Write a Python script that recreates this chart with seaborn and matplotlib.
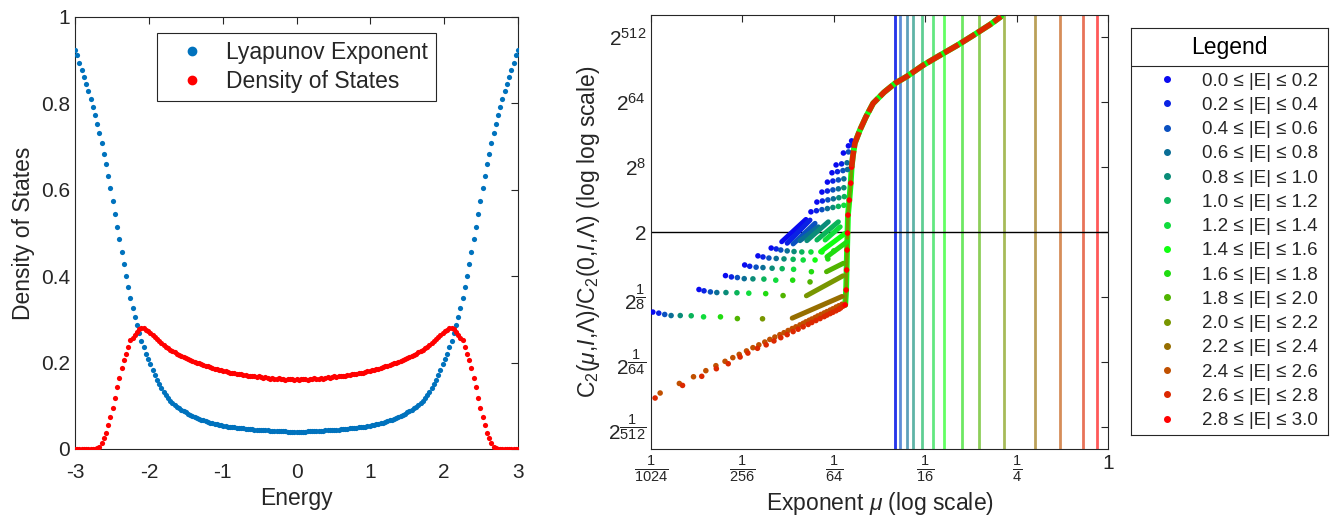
import numpy as np
import pandas as pd
import seaborn as sns
import matplotlib.pyplot as plt
from matplotlib.lines import Line2D
from matplotlib.ticker import NullLocator

sns.set_style('white')
plt.rcParams['font.family'] = ['Liberation Sans', 'DejaVu Sans']
plt.rcParams['mathtext.fontset'] = 'custom'
plt.rcParams['mathtext.rm'] = 'Liberation Sans'
plt.rcParams['mathtext.it'] = 'Liberation Sans:italic'
plt.rcParams['mathtext.bf'] = 'Liberation Sans:bold'
plt.rcParams['axes.unicode_minus'] = False

# ---------------- left panel: values for E >= 0 (curves are symmetric) ----------------
energy_step = 0.03
lyap_half = [0.040, 0.040, 0.040, 0.040, 0.040, 0.041, 0.041, 0.041, 0.041, 0.042,
             0.042, 0.042, 0.042, 0.043, 0.043, 0.043, 0.044, 0.044, 0.045, 0.045,
             0.046, 0.046, 0.047, 0.047, 0.048, 0.048, 0.049, 0.049, 0.050, 0.051,
             0.051, 0.052, 0.053, 0.054, 0.055, 0.056, 0.057, 0.058, 0.060, 0.061,
             0.063, 0.064, 0.066, 0.068, 0.070, 0.072, 0.074, 0.076, 0.079, 0.082,
             0.085, 0.088, 0.091, 0.094, 0.098, 0.102, 0.107, 0.112, 0.118, 0.125,
             0.133, 0.141, 0.150, 0.160, 0.171, 0.183, 0.196, 0.208, 0.221, 0.235,
             0.251, 0.268, 0.286, 0.306, 0.327, 0.350, 0.375, 0.401, 0.428, 0.456,
             0.485, 0.515, 0.545, 0.575, 0.604, 0.632, 0.659, 0.684, 0.708, 0.731,
             0.752, 0.772, 0.791, 0.810, 0.828, 0.845, 0.861, 0.878, 0.894, 0.911, 0.924]
dos_half = [0.162, 0.160, 0.163, 0.161, 0.162, 0.160, 0.163, 0.162, 0.164, 0.162,
            0.163, 0.165, 0.163, 0.164, 0.166, 0.165, 0.166, 0.168, 0.166, 0.169,
            0.168, 0.170, 0.169, 0.172, 0.171, 0.173, 0.174, 0.173, 0.176, 0.177,
            0.176, 0.179, 0.180, 0.181, 0.182, 0.184, 0.185, 0.186, 0.188, 0.190,
            0.191, 0.193, 0.195, 0.196, 0.198, 0.200, 0.202, 0.204, 0.206, 0.208,
            0.211, 0.213, 0.216, 0.218, 0.221, 0.224, 0.227, 0.230, 0.234, 0.237,
            0.241, 0.245, 0.249, 0.254, 0.259, 0.264, 0.268, 0.272, 0.276, 0.280,
            0.281, 0.277, 0.271, 0.265, 0.258, 0.252, 0.237, 0.221, 0.206, 0.187,
            0.165, 0.144, 0.119, 0.095, 0.075, 0.056, 0.038, 0.025, 0.013, 0.005,
            0.002, 0.001, 0.0, 0.0, 0.0, 0.0, 0.0, 0.0, 0.0, 0.0, 0.0]

# ---------------- right panel: x = log2(mu), t = log2(log2(C ratio)) ----------------
group_edges = [0.0, 0.2, 0.4, 0.6, 0.8, 1.0, 1.2, 1.4, 1.6, 1.8, 2.0, 2.2, 2.4, 2.6, 2.8, 3.0]
group_colors = ['#0a0af0', '#0a22e4', '#0a50c0', '#0a6e96', '#0a8c78', '#0ab45a', '#10dc3c',
                '#10ff10', '#20dc10', '#50b400', '#789600', '#966e00', '#c05000', '#dc2800', '#ff0000']
vline_lg = [-4.67, -4.65, -4.55, -4.40, -4.27, -4.08, -3.83, -3.58, -3.20, -2.82,
            -2.28, -1.60, -1.04, -0.54, -0.25]

fan_lg = [[-9.96, -9.83, -9.70, -9.56, -9.36, -9.12, -8.85, -8.48, -8.11, -7.56],
          [-8.95, -8.84, -8.70, -8.56, -8.36, -8.12, -7.86, -7.49, -7.11],
          [-8.37, -8.24, -8.11, -7.96, -7.77, -7.53, -7.27, -6.90, -6.52],
          [-7.95, -7.84, -7.70, -7.55, -7.35, -7.13, -6.88, -6.49],
          [-7.66, -7.55, -7.42, -7.26, -7.09, -6.89, -6.67, -6.41, -6.13],
          [-7.37, -7.26, -7.16, -7.02, -6.87, -6.70, -6.50, -6.26, -6.00],
          [-6.50, -6.38, -6.26, -6.14, -6.02, -5.90, -5.78],
          [-6.37, -6.25, -6.13, -6.01, -5.89, -5.77],
          [-6.26, -6.14, -6.02, -5.90, -5.78],
          [-6.14, -6.02, -5.90, -5.78],
          [-6.04, -5.92, -5.80, -5.70],
          [-5.95, -5.83, -5.71],
          [-5.79, -5.68],
          [-5.68, -5.59],
          [-5.61]]
fan_t = [[-3.69, -3.74, -3.80, -3.85, -3.85, -3.86, -3.91, -3.91, -3.99, -4.00],
         [-2.65, -2.71, -2.76, -2.79, -2.79, -2.80, -2.82, -2.84, -2.93],
         [-2.01, -2.07, -2.10, -2.15, -2.16, -2.17, -2.22, -2.22, -2.30],
         [-1.52, -1.58, -1.62, -1.64, -1.67, -1.69, -1.72, -1.83],
         [-1.10, -1.15, -1.20, -1.22, -1.24, -1.26, -1.29, -1.29, -1.24],
         [-0.74, -0.78, -0.83, -0.87, -0.90, -0.92, -0.92, -0.92, -0.87],
         [0.93, 0.98, 1.03, 1.08, 1.13, 1.18, 1.23],
         [1.38, 1.43, 1.48, 1.53, 1.58, 1.63],
         [1.84, 1.89, 1.94, 1.99, 2.04],
         [2.30, 2.35, 2.40, 2.45],
         [2.73, 2.78, 2.83, 2.88],
         [3.09, 3.14, 3.19],
         [3.64, 3.69],
         [3.97, 4.02],
         [4.20]]
fan_grp = [[0, 1, 2, 3, 4, 5, 6, 8, 9, 10],
           [0, 1, 2, 3, 4, 5, 6, 8, 9],
           [0, 1, 2, 3, 4, 5, 6, 8, 9],
           [0, 1, 2, 3, 4, 5, 6, 8],
           [0, 1, 2, 3, 4, 5, 6, 7, 8],
           [0, 1, 2, 3, 4, 5, 6, 7, 8],
           [0, 1, 2, 3, 4, 5, 6],
           [0, 1, 2, 3, 4, 5],
           [0, 1, 2, 3, 4],
           [0, 1, 2, 3],
           [0, 1, 2, 3],
           [0, 1, 3],
           [0, 2],
           [0, 1],
           [0]]

# dense short runs (drawn as thick segments)
dash_grp = [0, 1, 2, 3, 4, 5, 6, 7, 8, 9, 10, 11]
dash_lg = [(-7.14, -6.61), (-7.02, -6.52), (-6.89, -6.41), (-6.74, -6.34), (-6.59, -6.12),
           (-6.37, -5.90), (-6.19, -5.86), (-6.29, -5.75), (-6.15, -5.71), (-6.16, -5.79),
           (-6.60, -5.80), (-6.91, -5.82)]
dash_t = [(-0.45, 0.58), (-0.52, 0.55), (-0.55, 0.40), (-0.40, 0.24), (-0.40, 0.47),
          (-0.37, 0.47), (-0.37, 0.24), (-0.91, -0.06), (-1.14, -0.45), (-1.83, -1.44),
          (-2.94, -2.02), (-3.97, -2.97)]

diag_a_lg = [-9.80, -9.38, -9.07, -8.80, -8.58, -8.38, -8.21, -8.07, -7.91, -7.77, -7.64, -7.51,
             -7.40, -7.29, -7.18, -7.09, -7.00, -6.91, -6.83, -6.74, -6.67, -6.61, -6.54, -6.48,
             -6.41, -6.35, -6.28, -6.21, -6.15, -6.08, -6.02, -5.95, -5.89, -5.82]
diag_a_t = [-7.42, -6.98, -6.67, -6.39, -6.16, -5.96, -5.79, -5.64, -5.48, -5.33, -5.20, -5.07,
            -4.95, -4.84, -4.73, -4.64, -4.54, -4.45, -4.37, -4.28, -4.21, -4.14, -4.07, -4.01,
            -3.94, -3.87, -3.80, -3.73, -3.67, -3.60, -3.54, -3.46, -3.40, -3.33]
diag_b_lg = [-9.91, -9.31, -8.89, -8.57, -8.31, -8.05, -7.88, -7.67, -7.48, -7.31, -7.16, -7.02,
             -6.89, -6.78, -6.67, -6.56, -6.48, -6.39, -6.30, -6.21, -6.15, -6.08, -6.02, -5.95,
             -5.89, -5.85, -5.80]
diag_b_t = [-7.65, -7.07, -6.65, -6.30, -6.07, -5.76, -5.58, -5.36, -5.20, -5.02, -4.87, -4.73,
            -4.59, -4.48, -4.37, -4.26, -4.17, -4.08, -3.99, -3.90, -3.83, -3.76, -3.70, -3.63,
            -3.56, -3.50, -3.42]

spine_lg = [-5.75, -5.73, -5.72, -5.71, -5.70, -5.69, -5.66, -5.63, -5.61, -5.58, -5.54, -5.43,
            -5.30, -5.14, -4.90, -4.66, -4.40, -4.05, -3.68, -3.30, -2.95, -2.58, -2.34]
spine_t = [-3.36, -2.67, -1.75, -0.83, -0.05, 0.78, 1.47, 2.25, 2.99, 3.54, 4.09, 4.69,
           5.29, 5.93, 6.44, 6.85, 7.17, 7.68, 8.14, 8.60, 9.06, 9.56, 9.93]

# ---------------- figure ----------------
fig = plt.figure(figsize=(13.37, 5.17), dpi=100)
ax1 = fig.add_axes([75 / 1337, 68 / 517, 443 / 1337, 432 / 517])
ax2 = fig.add_axes([651 / 1337, 68 / 517, 457 / 1337, 434 / 517])
lax = fig.add_axes([1131 / 1337, 82 / 517, 197 / 1337, 407 / 517])

edge = '#262626'

# left panel
lyap_half = np.array(lyap_half)
dos_half = np.array(dos_half)
energy_half = np.round(np.arange(len(lyap_half)) * energy_step, 2)
df = pd.DataFrame({
    'energy': np.concatenate([-energy_half[:0:-1], energy_half]),
    'lyap': np.concatenate([lyap_half[:0:-1], lyap_half]),
    'dos': np.concatenate([dos_half[:0:-1], dos_half]),
})
sns.scatterplot(data=df, x='energy', y='lyap', color='#0072BD', s=14, linewidth=0, ax=ax1, zorder=3)
sns.scatterplot(data=df, x='energy', y='dos', color='#FF0000', s=14, linewidth=0, ax=ax1, zorder=3)
ax1.set_xlim(-3, 3)
ax1.set_ylim(0, 1)
ax1.set_xticks([-3, -2, -1, 0, 1, 2, 3])
ax1.set_yticks([0, 0.2, 0.4, 0.6, 0.8, 1])
ax1.set_yticklabels(['0', '0.2', '0.4', '0.6', '0.8', '1'])
ax1.set_xlabel('Energy', fontsize=16.5, color=edge)
ax1.set_ylabel('Density of States', fontsize=16.5, color=edge)
handles = [Line2D([], [], marker='o', ls='', color='#0072BD', markersize=6),
           Line2D([], [], marker='o', ls='', color='#FF0000', markersize=6)]
leg = ax1.legend(handles, ['Lyapunov Exponent', 'Density of States'], loc='upper left',
                 bbox_to_anchor=(0.185, 0.963), borderaxespad=0, fontsize=16.5, fancybox=False,
                 edgecolor=edge, framealpha=1, borderpad=0.35, handletextpad=0.26,
                 labelspacing=0.25, handlelength=2.4)
leg.get_frame().set_linewidth(0.8)

# right panel
for lg, g in zip(vline_lg, range(len(group_colors))):
    ax2.axvline(2.0 ** lg, color=group_colors[g], alpha=0.65, lw=2, zorder=1)
ax2.axhline(1, color='black', lw=1, zorder=1.5)

spine_mu = 2.0 ** np.array(spine_lg)
spine_y = 2.0 ** np.array(spine_t)
ax2.plot(spine_mu, spine_y, color=group_colors[7], lw=4.2, solid_capstyle='round', zorder=2)
ax2.plot(spine_mu[:9], spine_y[:9], color=group_colors[10], lw=2.5, zorder=2.2)

for g, lgs, ts in zip(dash_grp, dash_lg, dash_t):
    ax2.plot(2.0 ** np.array(lgs), 2.0 ** np.array(ts), color=group_colors[g], lw=3.6,
             solid_capstyle='round', zorder=2.5)

rows = []
for lg_row, t_row, g_row in zip(fan_lg, fan_t, fan_grp):
    rows += list(zip(lg_row, t_row, g_row))
rows += [(a, b, 12) for a, b in zip(diag_a_lg, diag_a_t)]
rows += [(a, b, 13) for a, b in zip(diag_b_lg, diag_b_t)]
rows += [(a, b, 14) for a, b in zip(spine_lg[:9], spine_t[:9])]
dots = pd.DataFrame(rows, columns=['lg', 't', 'grp']).sort_values('grp', kind='stable')
dots['mu'] = 2.0 ** dots['lg']
dots['log2_ratio'] = 2.0 ** dots['t']
sns.scatterplot(data=dots, x='mu', y='log2_ratio', hue='grp', palette=dict(enumerate(group_colors)),
                s=16, linewidth=0, legend=False, ax=ax2, zorder=3)

ax2.plot(spine_mu[8:], spine_y[8:], color=group_colors[13], lw=4, dashes=(3.0, 0.5), zorder=4)

ax2.set_xscale('log', base=2)
ax2.set_yscale('log', base=2)
ax2.set_xlim(2.0 ** -10, 1)
ax2.set_ylim(2.0 ** -10, 2.0 ** 10)
ax2.set_xticks([2.0 ** -10, 2.0 ** -8, 2.0 ** -6, 2.0 ** -4, 2.0 ** -2, 1])
ax2.set_xticklabels([r'$\frac{1}{1024}$', r'$\frac{1}{256}$', r'$\frac{1}{64}$',
                     r'$\frac{1}{16}$', r'$\frac{1}{4}$', '1'])
ax2.set_yticks([2.0 ** k for k in [-9, -6, -3, 0, 3, 6, 9]])
ax2.set_yticklabels([r'$2^{\dfrac{1}{512}}$', r'$2^{\dfrac{1}{64}}$', r'$2^{\dfrac{1}{8}}$', '2',
                     r'$2^{8}$', r'$2^{64}$', r'$2^{512}$'])
ax2.xaxis.set_minor_locator(NullLocator())
ax2.yaxis.set_minor_locator(NullLocator())
ax2.set_xlabel(r'Exponent $\mu$ (log scale)', fontsize=16.5, color=edge)
ax2.set_ylabel(r'C$_2$($\mu$,$I$,$\Lambda$)/C$_2$(0,$I$,$\Lambda$) (log log scale)',
               fontsize=16.5, color=edge)

for ax in (ax1, ax2):
    ax.tick_params(direction='in', top=True, right=True, length=5, width=0.8,
                   labelsize=15, colors=edge)
    for sp in ax.spines.values():
        sp.set_color(edge)
        sp.set_linewidth(0.8)
ax1.tick_params(axis='x', pad=10)

# legend box for the right panel
lax.set_xticks([])
lax.set_yticks([])
for sp in lax.spines.values():
    sp.set_color(edge)
    sp.set_linewidth(0.8)
lax.text(0.5, 0.953, 'Legend', ha='center', va='center', fontsize=16.5, color='black',
         transform=lax.transAxes)
lax.axhline(0.9066, color=edge, lw=0.8)
labels = [f'{lo:.1f} \u2264 |E| \u2264 {hi:.1f}' for lo, hi in zip(group_edges[:-1], group_edges[1:])]
handles = [Line2D([], [], marker='o', ls='', color=c, markersize=4) for c in group_colors]
lax.legend(handles, labels, loc='upper left', bbox_to_anchor=(0.135, 0.8907), borderaxespad=0,
           frameon=False, fontsize=13.5, labelspacing=0.38, handlelength=1.0, handletextpad=1.37,
           borderpad=0)

fig.savefig('out.png', dpi=100)
